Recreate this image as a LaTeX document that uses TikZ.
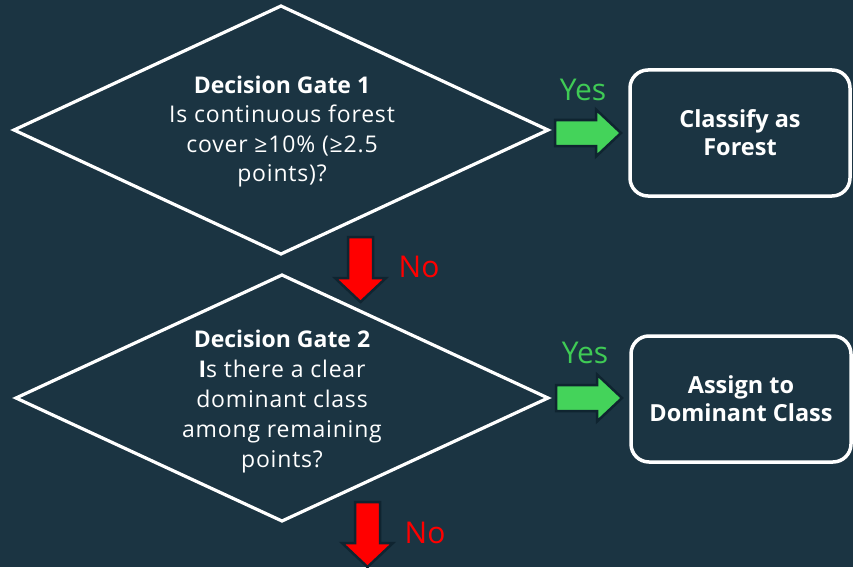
\documentclass[tikz,border=0pt]{standalone}
\usepackage{fontspec}
\setmainfont{Open Sans}[LetterSpace=3.5]
\newfontfamily\boldfam{Open Sans}[LetterSpace=0]
\usetikzlibrary{shapes.geometric}
\definecolor{bg}{HTML}{1B3442}
\definecolor{edgedark}{HTML}{0F2430}
\definecolor{arrgreen}{HTML}{44D35A}
\definecolor{txtgreen}{HTML}{3FCB55}
\definecolor{arrred}{HTML}{FF0000}
\newcommand{\hd}[1]{{\boldfam\bfseries #1}}
\begin{document}
\begin{tikzpicture}[x=1pt,y=-1pt,
  gate/.style={diamond, draw=white, line width=3.2pt, fill=bg, inner sep=0pt, outer sep=0pt},
  gatetext/.style={text=white, align=center, inner sep=0pt},
  resultbox/.style={rectangle, rounded corners=18pt, draw=white, line width=3.5pt,
    fill=bg, text=white, align=center, minimum width=220pt, minimum height=126pt,
    font=\boldfam\bfseries\fontsize{23.5}{28}\selectfont},
  yeslabel/.style={text=txtgreen, font=\boldfam\fontsize{30}{30}\selectfont, inner sep=0pt},
  nolabel/.style={text=arrred, font=\boldfam\fontsize{30}{30}\selectfont, inner sep=0pt},
  blockline/.style={draw=edgedark, line width=2.5pt, line join=miter},
  rightblock/.pic={\path[blockline, fill=arrgreen] (0,-13) -- (41,-13) -- (41,-23.5) -- (66,0) -- (41,23.5) -- (41,13) -- (0,13) -- cycle;},
  downblock/.pic={\path[blockline, fill=arrred] (-12.5,0) -- (12.5,0) -- (12.5,41) -- (25.5,41) -- (0,65) -- (-25.5,41) -- (-12.5,41) -- cycle;}
]
\fill[bg] (0,0) rectangle (853,567);
\useasboundingbox (0,0) rectangle (853,567);

% decision gates
\node[gate, minimum width=534pt, minimum height=248pt] (d1) at (281,130) {};
\node[gate, minimum width=532pt, minimum height=246pt] (d2) at (282,398) {};
\node[gatetext, font=\fontsize{23}{29.5}\selectfont] (t1) at (282,131.5)
  {\hd{Decision Gate 1}\\Is continuous forest\\cover ≥10\% (≥2.5\\points)?};
\node[gatetext, font=\fontsize{23}{30}\selectfont] (t2) at (282,402)
  {\hd{Decision Gate 2}\\\hd{I}s there a clear\\dominant class\\among remaining\\points?};

% result boxes
\node[resultbox] (b1) at (740,133) {Classify as\\Forest};
\node[resultbox] (b2) at (741,399) {Assign to\\Dominant Class};

% block arrows
\pic at (555,133) {rightblock};
\pic at (556,398) {rightblock};
\pic at (360.5,237) {downblock};
\pic at (367.5,502) {downblock};

% labels
\node[yeslabel] (y1) at (583,90) {Yes};
\node[yeslabel] (y2) at (585,353) {Yes};
\node[nolabel] (n1) at (419,267) {No};
\node[nolabel] (n2) at (425,533) {No};
\end{tikzpicture}
\end{document}
